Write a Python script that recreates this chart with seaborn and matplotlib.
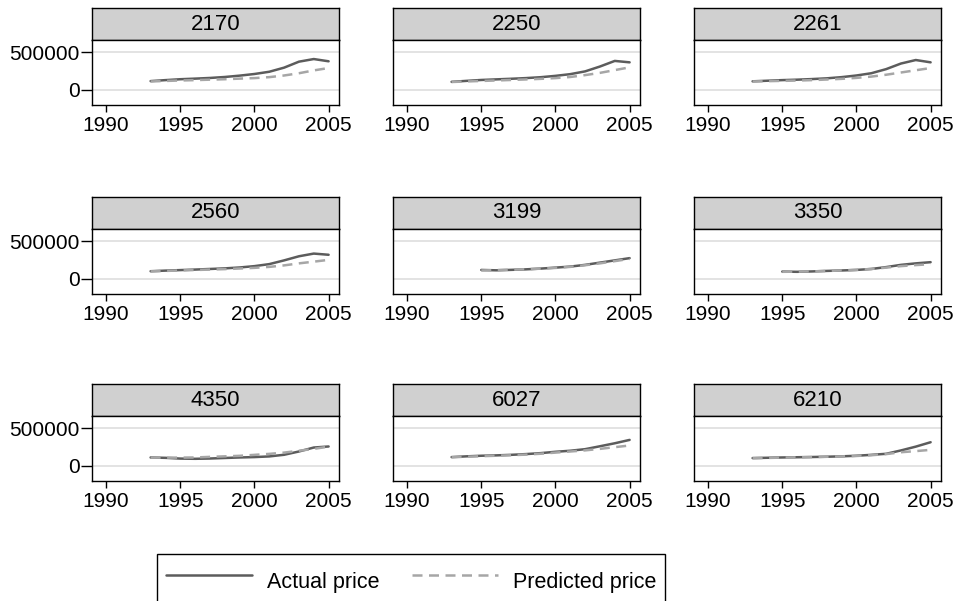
import numpy as np
import pandas as pd
import matplotlib
matplotlib.use("Agg")
import matplotlib.pyplot as plt
import seaborn as sns
from matplotlib.lines import Line2D

# ---- data ----
panel_ids = ["2170", "2250", "2261", "2560", "3199", "3350", "4350", "6027", "6210"]

years_93 = list(range(1993, 2006))
years_95 = list(range(1995, 2006))

actual_2170 = [115000, 128000, 140000, 148000, 157000, 170000, 188000, 210000, 240000, 295000, 375000, 410000, 380000]
pred_2170 = [110000, 117000, 123000, 128000, 134000, 140000, 148000, 155000, 168000, 190000, 220000, 258000, 290000]

actual_2250 = [105000, 118000, 130000, 138000, 146000, 155000, 167000, 185000, 208000, 245000, 310000, 385000, 366000]
pred_2250 = [103000, 110000, 117000, 123000, 130000, 137000, 145000, 155000, 170000, 195000, 225000, 262000, 299000]

actual_2261 = [112000, 120000, 128000, 134000, 142000, 152000, 168000, 190000, 220000, 275000, 350000, 397000, 366000]
pred_2261 = [110000, 114000, 118000, 122000, 128000, 136000, 145000, 158000, 175000, 200000, 230000, 260000, 290000]

actual_2560 = [100000, 108000, 115000, 122000, 130000, 138000, 150000, 168000, 195000, 245000, 300000, 336000, 320000]
pred_2560 = [98000, 104000, 110000, 116000, 122000, 128000, 136000, 145000, 158000, 178000, 205000, 228000, 252000]

actual_3199 = [117000, 112000, 118000, 125000, 135000, 148000, 162000, 185000, 215000, 245000, 275000]
pred_3199 = [110000, 115000, 120000, 126000, 134000, 144000, 158000, 180000, 205000, 235000, 265000]

actual_3350 = [95000, 92000, 97000, 104000, 110000, 117000, 130000, 155000, 185000, 205000, 221000]
pred_3350 = [92000, 94000, 98000, 103000, 110000, 118000, 130000, 148000, 168000, 182000, 194000]

actual_4350 = [110000, 105000, 95000, 92000, 96000, 103000, 110000, 115000, 124000, 146000, 190000, 243000, 257000]
pred_4350 = [108000, 108000, 108000, 110000, 118000, 125000, 132000, 145000, 158000, 175000, 200000, 225000, 255000]

actual_6027 = [115000, 125000, 133000, 138000, 145000, 155000, 168000, 186000, 200000, 221000, 260000, 300000, 345000]
pred_6027 = [113000, 120000, 127000, 133000, 140000, 148000, 160000, 175000, 190000, 205000, 225000, 248000, 270000]

actual_6210 = [102000, 106000, 110000, 113000, 116000, 120000, 125000, 133000, 145000, 159000, 204000, 255000, 314000]
pred_6210 = [100000, 104000, 108000, 112000, 115000, 119000, 124000, 130000, 140000, 155000, 180000, 195000, 212000]

x_ticks = [1990, 1995, 2000, 2005]
y_ticks = [0, 500000]

panel_data = {
    "2170": (years_93, actual_2170, pred_2170),
    "2250": (years_93, actual_2250, pred_2250),
    "2261": (years_93, actual_2261, pred_2261),
    "2560": (years_93, actual_2560, pred_2560),
    "3199": (years_95, actual_3199, pred_3199),
    "3350": (years_95, actual_3350, pred_3350),
    "4350": (years_93, actual_4350, pred_4350),
    "6027": (years_93, actual_6027, pred_6027),
    "6210": (years_93, actual_6210, pred_6210),
}

rows = []
for pid in panel_ids:
    yrs, act, prd = panel_data[pid]
    for y, a, p in zip(yrs, act, prd):
        rows.append({"panel": pid, "year": y, "price": a, "series": "Actual price"})
        rows.append({"panel": pid, "year": y, "price": p, "series": "Predicted price"})
df = pd.DataFrame(rows)

# ---- style ----
sns.set_style("white")
plt.rcParams["font.family"] = ["Liberation Sans", "DejaVu Sans"]
plt.rcParams["text.color"] = "black"
plt.rcParams["xtick.color"] = "black"
plt.rcParams["ytick.color"] = "black"
plt.rcParams["axes.labelcolor"] = "black"

COLORS = {"Actual price": "#5c5c5c", "Predicted price": "#a6a6a6"}
DASHES = {"Actual price": "", "Predicted price": (4, 2.6)}

W, H = 957, 601
fig = plt.figure(figsize=(W / 100, H / 100), dpi=100)

col_left = [92, 393, 694]
row_strip_top = [8, 197, 384]
strip_h = 32
plot_h = 65
panel_w = 247


def fx(px):
    return px / W


def fy(py):
    return 1 - py / H


for i, pid in enumerate(panel_ids):
    r, c = divmod(i, 3)
    left = col_left[c]
    top = row_strip_top[r]

    # strip header
    sax = fig.add_axes([fx(left), fy(top + strip_h), fx(panel_w), strip_h / H])
    sax.set_facecolor("#d0d0d0")
    sax.set_xticks([])
    sax.set_yticks([])
    for sp in sax.spines.values():
        sp.set_color("black")
        sp.set_linewidth(1.0)
    sax.text(0.5, 0.5, pid, ha="center", va="center", fontsize=16, color="black",
             transform=sax.transAxes)

    # plot area
    ax = fig.add_axes([fx(left), fy(top + strip_h + plot_h), fx(panel_w), plot_h / H])
    for yv in y_ticks:
        ax.axhline(yv, color="#e3e3e3", lw=1.4, zorder=0)
    sub = df[df["panel"] == pid]
    sns.lineplot(data=sub, x="year", y="price", hue="series", style="series",
                 palette=COLORS, dashes=DASHES, linewidth=1.8, legend=False, ax=ax)
    ax.set_xlim(1989.05, 2005.7)
    ax.set_ylim(-205000, 665000)
    ax.set_xticks(x_ticks)
    ax.set_xticklabels([str(t) for t in x_ticks], fontsize=15)
    ax.set_xlabel("")
    ax.set_ylabel("")
    ax.tick_params(axis="x", direction="out", length=5, width=1, pad=3, color="black",
                   labelcolor="black", bottom=True)
    ax.set_yticks(y_ticks)
    if c == 0:
        ax.set_yticklabels([str(t) for t in y_ticks], fontsize=15)
        ax.tick_params(axis="y", direction="out", length=8, width=1, pad=1, color="black",
                       labelcolor="black", left=True)
    else:
        ax.tick_params(axis="y", left=False, labelleft=False)
    for sp in ax.spines.values():
        sp.set_color("black")
        sp.set_linewidth(1.0)

handles = [
    Line2D([], [], color=COLORS["Actual price"], lw=1.8),
    Line2D([], [], color=COLORS["Predicted price"], lw=1.8, dashes=DASHES["Predicted price"]),
]
leg = fig.legend(handles, ["Actual price", "Predicted price"], ncol=2,
                 loc="upper left", bbox_to_anchor=(fx(157), fy(554)),
                 fontsize=15.5, frameon=True, fancybox=False, framealpha=1,
                 edgecolor="black", handlelength=4.0, handletextpad=0.7,
                 handleheight=2.3, columnspacing=1.5, borderpad=0.4,
                 borderaxespad=0)
leg.get_frame().set_linewidth(1.0)
for t in leg.get_texts():
    t.set_color("black")

fig.savefig("out.png", dpi=100)
